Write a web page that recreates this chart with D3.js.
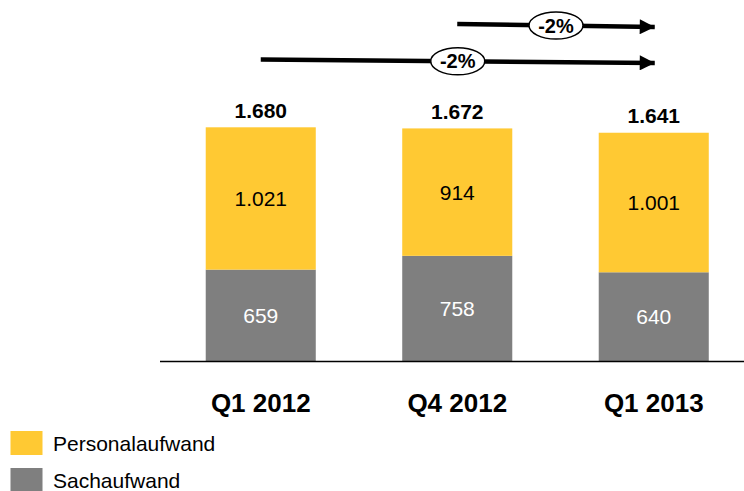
<!DOCTYPE html>
<html>
<head>
<meta charset="utf-8">
<script src="https://cdn.jsdelivr.net/npm/d3@7/dist/d3.min.js"></script>
<style>
  html, body { margin: 0; padding: 0; background: #fff; }
  svg { display: block; font-family: "Liberation Sans", Arial, sans-serif; }
</style>
</head>
<body>
<svg id="chart" width="744" height="491"></svg>
<script>
// Quarterly expenses (EUR m)
const categories = ["Q1 2012", "Q4 2012", "Q1 2013"];
const personal = [1021, 914, 1001];      // Personalaufwand
const sachaufwand = [659, 758, 640];     // Sachaufwand
const totals = ["1.680", "1.672", "1.641"];
const totalValues = [1680, 1672, 1641];
const seriesNames = ["Personalaufwand", "Sachaufwand"];
const changes = [
  { from: "Q4 2012", to: "Q1 2013", label: "-2%" },
  { from: "Q1 2012", to: "Q1 2013", label: "-2%" }
];

const fmt = v => d3.format(",")(v).replace(/,/g, ".");
const colors = { Personalaufwand: "#FFC933", Sachaufwand: "#7F7F7F" };

const svg = d3.select("#chart");
const baseY = 361.5;

const x = d3.scaleBand()
  .domain(categories)
  .range([162.5, 752])
  .paddingInner(0.44)
  .paddingOuter(0.22);

const y = d3.scaleLinear().domain([0, 1680]).range([baseY, 127.3]);

const rows = categories.map((c, i) => ({
  cat: c, sach: sachaufwand[i], pers: personal[i], total: totalValues[i], totalLabel: totals[i]
}));

// Bars
const g = svg.append("g");
rows.forEach(r => {
  const x0 = x(r.cat), w = x.bandwidth(), cx = x0 + w / 2;
  // lower segment
  g.append("rect")
    .attr("x", x0).attr("width", w)
    .attr("y", y(r.sach)).attr("height", baseY - y(r.sach))
    .attr("fill", colors.Sachaufwand);
  // upper segment
  g.append("rect")
    .attr("x", x0).attr("width", w)
    .attr("y", y(r.sach + r.pers)).attr("height", y(r.sach) - y(r.sach + r.pers))
    .attr("fill", colors.Personalaufwand);
  // segment labels
  g.append("text")
    .attr("x", cx).attr("y", (y(r.sach) + baseY) / 2)
    .attr("dy", "0.36em").attr("text-anchor", "middle")
    .attr("font-size", 21).attr("fill", "#fff")
    .text(fmt(r.sach));
  g.append("text")
    .attr("x", cx).attr("y", (y(r.sach) + y(r.sach + r.pers)) / 2)
    .attr("dy", "0.36em").attr("text-anchor", "middle")
    .attr("font-size", 21).attr("fill", "#000")
    .text(fmt(r.pers));
  // total label
  g.append("text")
    .attr("x", cx).attr("y", y(r.total) - 9.5)
    .attr("text-anchor", "middle")
    .attr("font-size", 21).attr("font-weight", "bold").attr("fill", "#000")
    .text(r.totalLabel);
});

// Baseline
svg.append("line")
  .attr("x1", 160).attr("x2", 744)
  .attr("y1", baseY).attr("y2", baseY)
  .attr("stroke", "#000").attr("stroke-width", 1.3);

// Category axis
const xAxis = svg.append("g")
  .attr("transform", `translate(0,${baseY})`)
  .call(d3.axisBottom(x).tickSize(0));
xAxis.select(".domain").remove();
xAxis.selectAll("text")
  .attr("y", 50.5).attr("dy", 0)
  .attr("font-family", "Liberation Sans, Arial, sans-serif")
  .attr("font-size", 26).attr("font-weight", "bold").attr("fill", "#000");

// Change arrows
svg.append("defs").append("marker")
  .attr("id", "head")
  .attr("viewBox", "0 0 10 10")
  .attr("refX", 10).attr("refY", 5)
  .attr("markerUnits", "userSpaceOnUse")
  .attr("markerWidth", 16).attr("markerHeight", 15)
  .attr("orient", "auto")
  .append("path").attr("d", "M0,0 L10,5 L0,10 Z").attr("fill", "#000");

const arrowRows = [
  { y1: 24, y2: 27 },
  { y1: 59.5, y2: 63 }
];
changes.forEach((c, i) => {
  const xs = x(c.from) + x.bandwidth() / 2;
  const xe = x(c.to) + x.bandwidth() / 2 + 1;
  const ya = arrowRows[i];
  svg.append("line")
    .attr("x1", xs).attr("y1", ya.y1)
    .attr("x2", xe).attr("y2", ya.y2)
    .attr("stroke", "#000").attr("stroke-width", 4.5)
    .attr("marker-end", "url(#head)");
  const mx = (xs + xe) / 2;
  const my = (ya.y1 + ya.y2) / 2;
  svg.append("ellipse")
    .attr("cx", mx).attr("cy", my)
    .attr("rx", 27).attr("ry", 13.5)
    .attr("fill", "#fff").attr("stroke", "#000").attr("stroke-width", 1.5);
  svg.append("text")
    .attr("x", mx).attr("y", my).attr("dy", "0.36em")
    .attr("text-anchor", "middle")
    .attr("font-size", 20).attr("font-weight", "bold")
    .text(c.label);
});

// Legend
const legend = svg.append("g");
seriesNames.forEach((name, i) => {
  const ly = 431 + i * 37;
  legend.append("rect")
    .attr("x", 10.5).attr("y", ly).attr("width", 32).attr("height", 24)
    .attr("fill", colors[name]);
  legend.append("text")
    .attr("x", 53).attr("y", ly + 12).attr("dy", "0.36em")
    .attr("font-size", 21).attr("fill", "#000")
    .text(name);
});
</script>
</body>
</html>
